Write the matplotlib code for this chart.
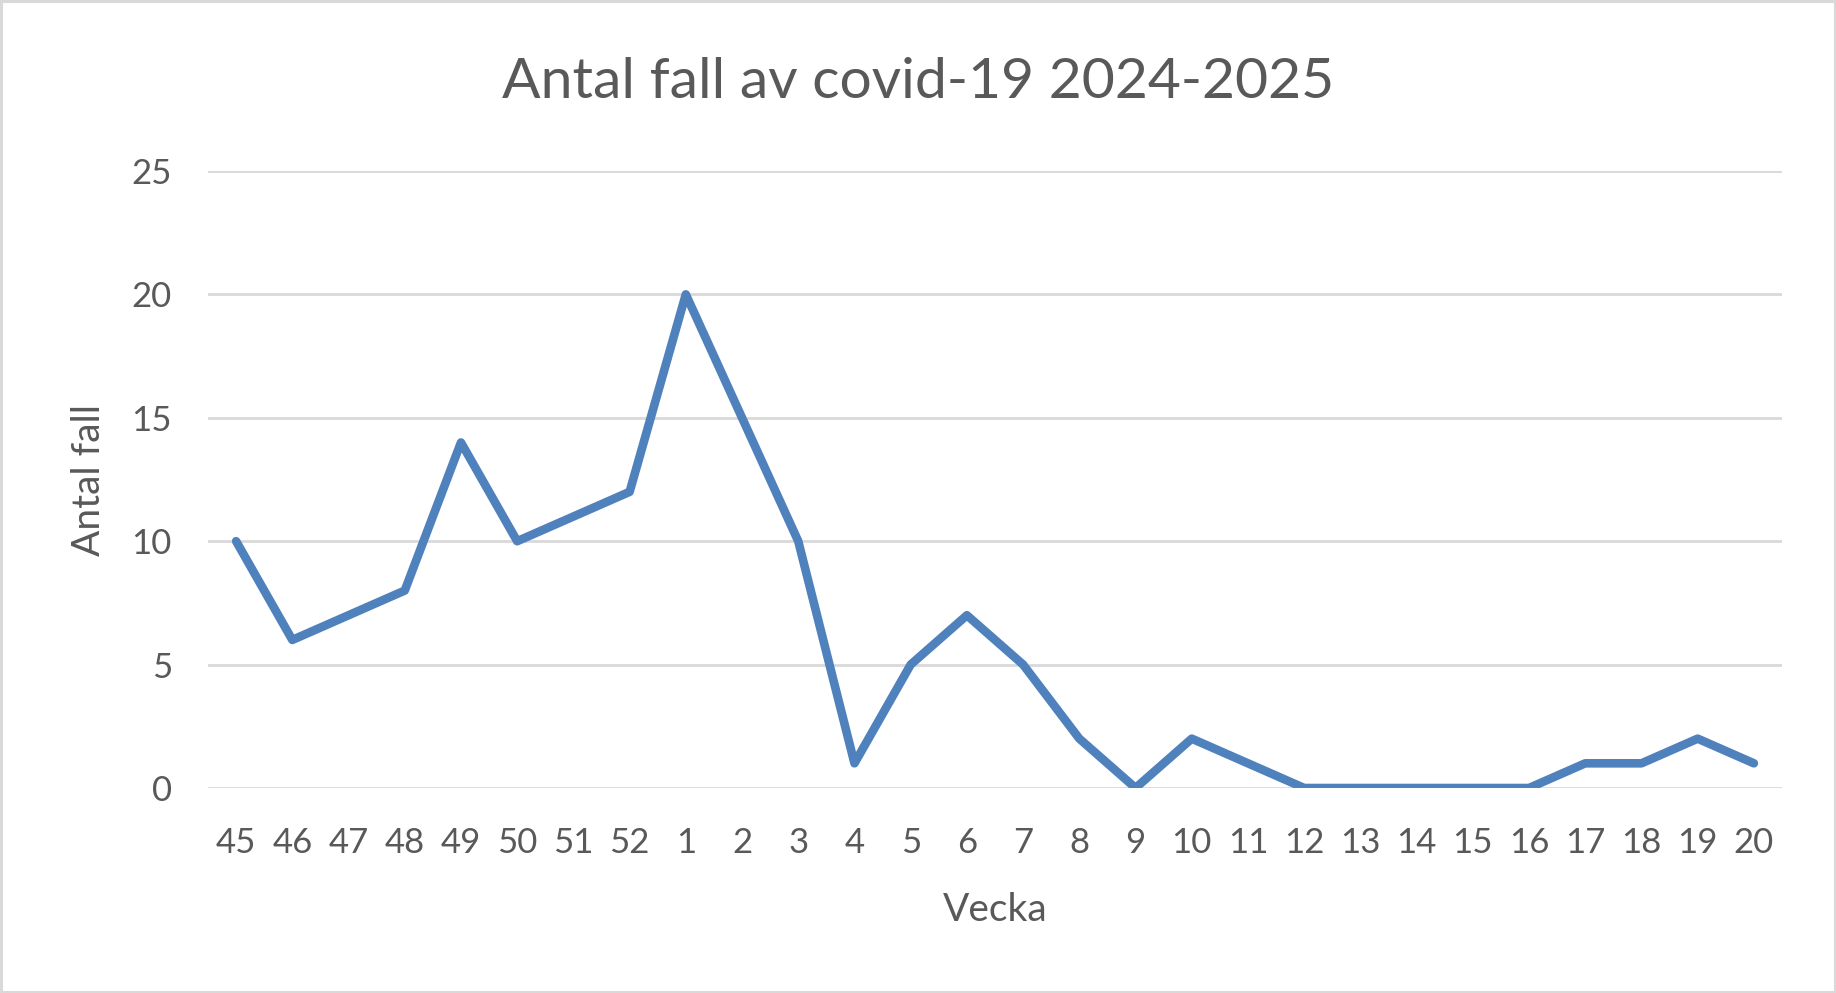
import matplotlib
matplotlib.use("Agg")
import matplotlib.pyplot as plt
from matplotlib.patches import Rectangle

weeks = ["45", "46", "47", "48", "49", "50", "51", "52", "1", "2", "3", "4", "5", "6",
         "7", "8", "9", "10", "11", "12", "13", "14", "15", "16", "17", "18", "19", "20"]
cases = [10, 6, 7, 8, 14, 10, 11, 12, 20, 15, 10, 1, 5, 7,
         5, 2, 0, 2, 1, 0, 0, 0, 0, 0, 1, 1, 2, 1]
yticks = [0, 5, 10, 15, 20, 25]

title = "Antal fall av covid-19 2024-2025"
xlabel = "Vecka"
ylabel = "Antal fall"

plt.rcParams['font.family'] = ['Lato', 'DejaVu Sans']
txt = "#595959"
grid = "#d9d9d9"
blue = "#4f81bd"

W, H = 1836, 993
fig = plt.figure(figsize=(W / 100, H / 100), dpi=100)
fig.patch.set_facecolor("white")
fig.patches.append(Rectangle((0.0008, 0.0015), 0.9984, 0.997, transform=fig.transFigure,
                             fill=False, edgecolor=grid, linewidth=2.2))

left, right = 208 / W, 1782 / W
bottom, top = 1 - 788 / H, 1 - 171 / H
ax = fig.add_axes([left, bottom, right - left, top - bottom])

x = list(range(len(weeks)))
ax.plot(x, cases, color=blue, linewidth=6.2, solid_joinstyle="round",
        solid_capstyle="round", zorder=3)

ax.set_xlim(-0.5, len(weeks) - 0.5)
ax.set_ylim(0, 25)
ax.set_yticks(yticks)
ax.set_yticklabels([str(v) for v in yticks])
ax.set_xticks(x)
ax.set_xticklabels(weeks)
ax.yaxis.grid(True, color=grid, linewidth=2.0, zorder=0)
ax.set_axisbelow(True)
for s in ax.spines.values():
    s.set_visible(False)
ax.tick_params(axis="both", length=0, labelsize=25, colors=txt)
ax.tick_params(axis="y", pad=26)
ax.tick_params(axis="x", pad=28)
for lab in ax.get_yticklabels() + ax.get_xticklabels():
    lab.set_clip_on(False)

fig.text(0.5, 1 - 82 / H, title, ha="center", va="center", fontsize=41, color=txt)
fig.text((left + right) / 2, 1 - 910 / H, xlabel, ha="center", va="center", fontsize=28, color=txt)
fig.text(89 / W, (bottom + top) / 2, ylabel, ha="center", va="center", rotation=90,
         fontsize=28, color=txt)

fig.savefig("out.png", dpi=100)
